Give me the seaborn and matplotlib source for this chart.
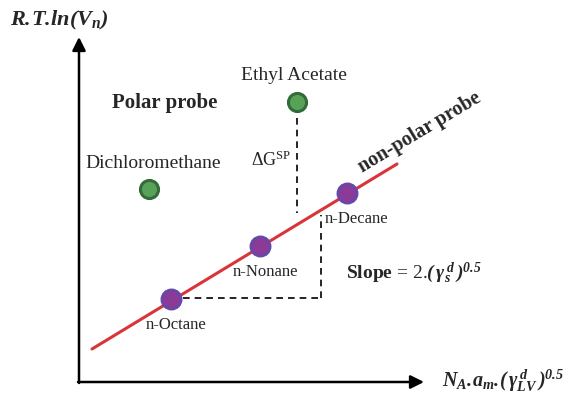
import matplotlib
matplotlib.use("Agg")
import matplotlib.pyplot as plt
import seaborn as sns
import pandas as pd

# ---- data (diagram coordinates, pixel-like units, y grows downward) ----
alkane_names = ["n-Octane", "n-Nonane", "n-Decane"]
alkane_x = [171, 260, 347]
alkane_y = [299, 246, 193]
polar_names = ["Dichloromethane", "Ethyl Acetate"]
polar_x = [149, 297]
polar_y = [189, 102]
line_x = [92, 397]
line_y = [349, 164]

sns.set_style("white")
plt.rcParams["font.family"] = ["Liberation Serif", "DejaVu Serif"]
plt.rcParams["mathtext.fontset"] = "custom"
plt.rcParams["mathtext.rm"] = "Liberation Serif:italic:bold"
plt.rcParams["mathtext.it"] = "Liberation Serif:italic:bold"
plt.rcParams["mathtext.bf"] = "Liberation Serif:bold"
plt.rcParams["mathtext.sf"] = "Liberation Serif"

fig = plt.figure(figsize=(5.7, 3.97), dpi=100)
ax = fig.add_axes([0, 0, 1, 1])

# axes arrows
arrow = dict(arrowstyle="-|>", lw=1.8, color="black", mutation_scale=20, shrinkA=0, shrinkB=0)
ax.annotate("", xy=(79, 37), xytext=(79, 383), arrowprops=arrow)
ax.annotate("", xy=(424, 382), xytext=(78, 382), arrowprops=arrow)

# dashed guides
dash = dict(color="black", lw=1.2, ls=(0, (4, 3)))
ax.plot([297, 297], [118, 213], **dash)
ax.plot([183, 321], [298, 298], **dash)
ax.plot([321, 321], [298, 215], **dash)

# fitted line
sns.lineplot(x=line_x, y=line_y, ax=ax, color="#d8343a", lw=2.2, sort=False, legend=False)

alk = pd.DataFrame({"name": alkane_names, "x": alkane_x, "y": alkane_y})
pol = pd.DataFrame({"name": polar_names, "x": polar_x, "y": polar_y})
sns.scatterplot(data=alk, x="x", y="y", ax=ax, s=190, color="#8c3a98",
                edgecolor="#6548a8", linewidth=2.0, zorder=5, legend=False)
sns.scatterplot(data=pol, x="x", y="y", ax=ax, s=170, color="#58a258",
                edgecolor="#336b3a", linewidth=2.2, zorder=5, legend=False)
ax.set_xlim(0, 570)
ax.set_ylim(397, 0)
ax.axis("off")

# labels
for n, x, y in zip(alkane_names, alkane_x, alkane_y):
    ax.text(x + 9 if n == "n-Decane" else x + 5, y + 26, n, ha="center", va="center", fontsize=12)
ax.text(polar_x[0] + 4, polar_y[0] - 26, polar_names[0], ha="center", va="center", fontsize=14)
ax.text(polar_x[1] - 3, polar_y[1] - 27, polar_names[1], ha="center", va="center", fontsize=14)

ax.text(165, 103, "Polar probe", ha="center", va="center", fontsize=15, fontweight="bold")
ax.text(271, 160, "\u0394G" + r"$^{\mathsf{SP}}$", ha="center", va="center", fontsize=13)
ax.text(420, 132, "non-polar probe", ha="center", va="center", fontsize=14.5,
        fontweight="bold", rotation=31)
ax.text(346, 273, r"$\mathbf{Slope}$ = 2.$(\,\gamma_s^{\,d}\,)^{0.5}$", ha="left", va="center", fontsize=14)
ax.text(10, 20, r"$R.\!T.\!ln(V_n)$", ha="left", va="center", fontsize=16)
ax.text(442, 381, r"$N_A.\!a_m.\!(\,\gamma_{LV}^{\,d}\,)^{0.5}$", ha="left", va="center", fontsize=14.5)

fig.savefig("out.png", dpi=100)
